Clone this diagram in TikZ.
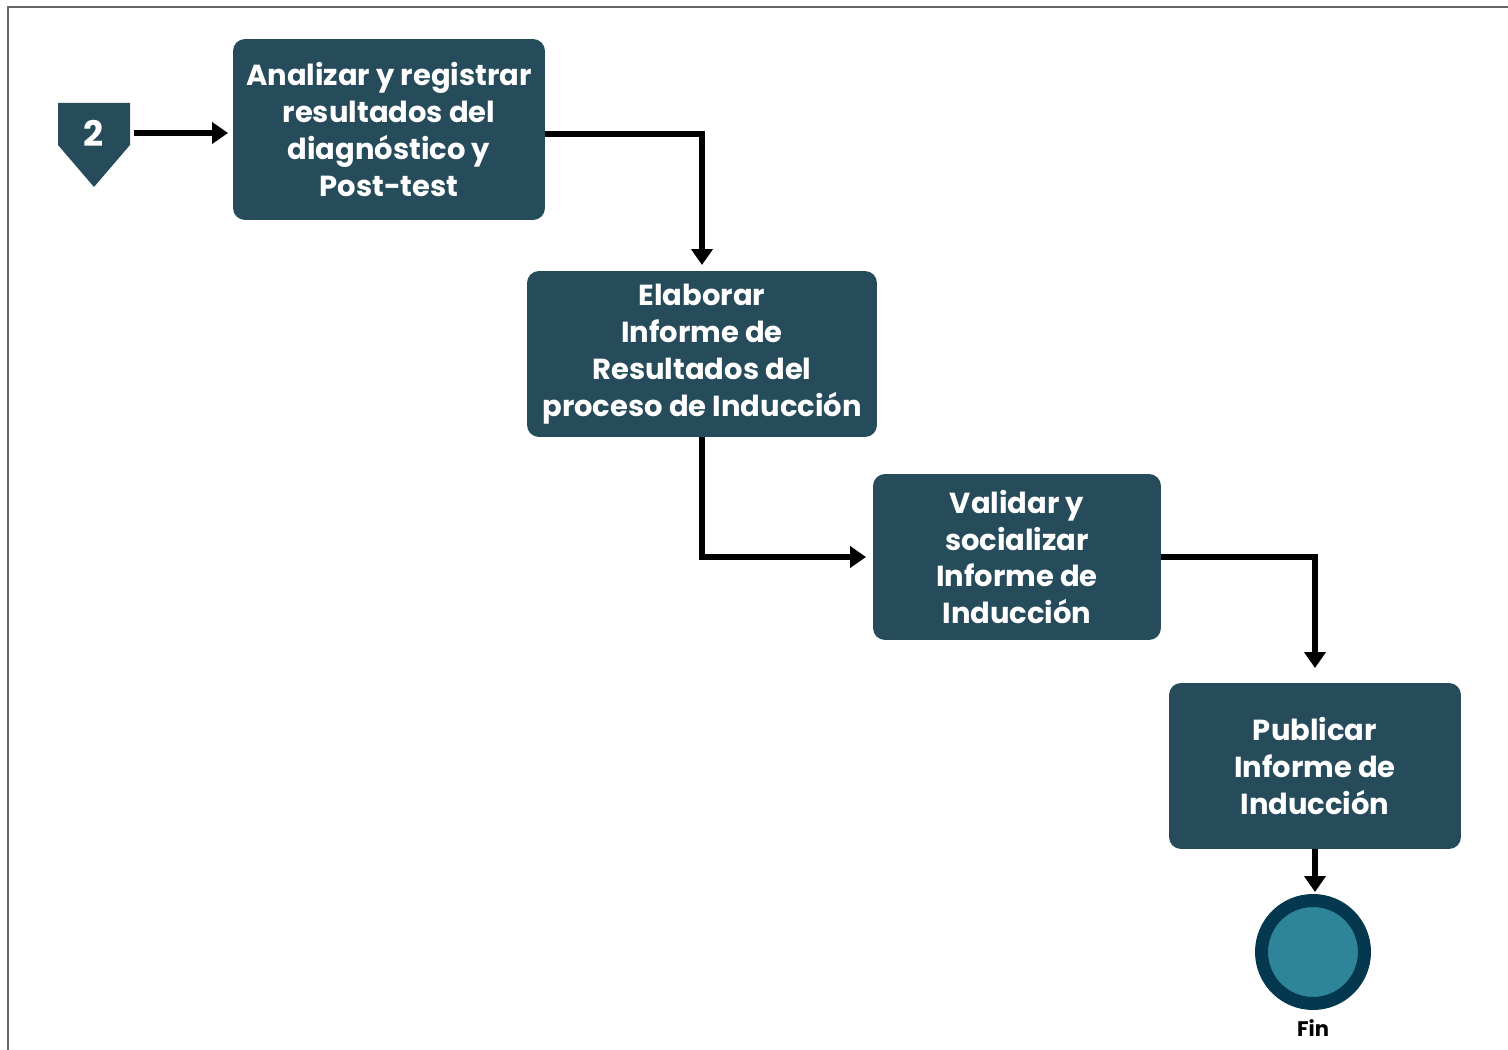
\documentclass[tikz,border=0pt]{standalone}
\usepackage{fontspec}
\setmainfont{Poppins}
\usepackage{tikz}
\usetikzlibrary{arrows.meta,shapes.geometric}

\definecolor{boxblue}{HTML}{264B5A}
\definecolor{endring}{HTML}{03384F}
\definecolor{endfill}{HTML}{2E8499}

\begin{document}
\begin{tikzpicture}[x=0.02cm,y=-0.02cm,->,>={Triangle[length=0.32cm,width=0.42cm]},
                    line width=3.8pt]
  \tikzstyle{task}=[rectangle,rounded corners=0.24cm,fill=boxblue,text=white,
                    font=\fontsize{16.5}{21}\selectfont\bfseries,align=center,
                    inner sep=0pt,line width=0pt]
  \tikzstyle{every node}=[line width=0pt]

  \useasboundingbox (0,0) rectangle (1508,1050);
  \draw[-,gray!80!black,line width=1.5pt] (8,1050) -- (8,7) -- (1508,7);

  % conector de pagina
  \fill[boxblue,draw=none] (58,103) -- (130,103) -- (130,145) -- (94,187) -- (58,145) -- cycle;
  \node[text=white,minimum width=1.44cm,minimum height=0.8cm,inner sep=0pt,
        font=\fontsize{20}{24}\selectfont\bfseries] (P2) at (94,133) {2};

  \node[task,minimum width=6.24cm,minimum height=3.62cm] (A) at (389,129.5)
        {Analizar y registrar\\ resultados del\\ diagnóstico y\\ Post-test};
  \node[task,minimum width=7cm,minimum height=3.32cm] (B) at (702,354)
        {Elaborar\\ Informe de\\ Resultados del\\ proceso de Inducción};
  \node[task,minimum width=5.76cm,minimum height=3.32cm] (C) at (1017,557)
        {Validar y\\ socializar\\ Informe de\\ Inducción};
  \node[task,minimum width=5.84cm,minimum height=3.32cm] (D) at (1315,766)
        {Publicar\\ Informe de\\ Inducción};
  \node[circle,fill=endfill,draw=endring,line width=0.26cm,minimum size=2.06cm,
        inner sep=0pt] (E) at (1313,952) {};
  \node[font=\fontsize{12}{14}\selectfont\bfseries] (fin) at (1313,1028) {Fin};

  \draw ([xshift=0.08cm]P2.east) -- ([xshift=-0.1cm]P2.east -| A.west);
  \draw ([yshift=-0.09cm]A.east) -| ([yshift=0.12cm]B.north);
  \draw (B.south) |- ([xshift=-0.14cm]C.west);
  \draw (C.east) -| ([yshift=0.3cm]D.north);
  \draw (D.south) -- ([yshift=0.04cm]D.south |- E.north);

\end{tikzpicture}
\end{document}
